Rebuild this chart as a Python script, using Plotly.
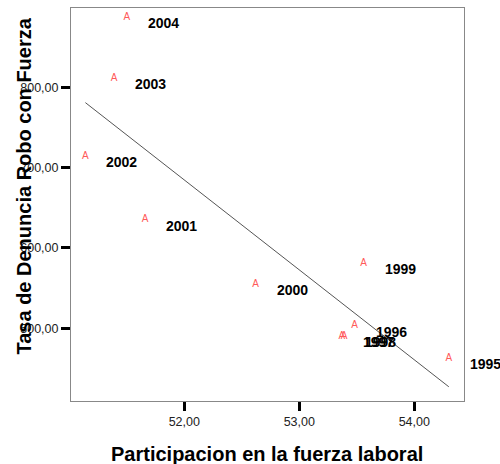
import numpy as np
import plotly.graph_objects as go

years = ["2004", "2003", "2002", "2001", "2000", "1999", "1996", "1997", "1998", "1995"]
participacion = [51.50, 51.39, 51.14, 51.66, 52.62, 53.56, 53.48, 53.37, 53.39, 54.30]
tasa_robo = [887, 811, 714, 635, 555, 581, 503, 490, 490, 463]

x_ticks = [52, 53, 54]
x_tick_labels = ["52,00", "53,00", "54,00"]
y_ticks = [500, 600, 700, 800]
y_tick_labels = ["500,00", "600,00", "700,00", "800,00"]

x = np.array(participacion)
y = np.array(tasa_robo)
slope, intercept = np.polyfit(x, y, 1)
line_x = np.array([x.min(), x.max()])
line_y = slope * line_x + intercept

fig = go.Figure()
fig.add_trace(go.Scatter(
    x=line_x, y=line_y, mode="lines",
    line=dict(color="#555555", width=1), hoverinfo="skip", showlegend=False))
fig.add_trace(go.Scatter(
    x=participacion, y=tasa_robo, mode="text", text=["A"] * len(years),
    textposition="middle center",
    textfont=dict(family="Liberation Sans, Arial", size=10, color="#ff5a5a"),
    showlegend=False, cliponaxis=False))

for xi, yi, lab in zip(participacion, tasa_robo, years):
    fig.add_annotation(x=xi, y=yi, text=f"<b>{lab}</b>", showarrow=False,
                       xanchor="left", yanchor="middle", xshift=19, yshift=-6,
                       font=dict(family="Liberation Sans, Arial", size=14, color="#000000"))

W, H = 500, 464
L, R, T, B = 71, 36, 8, 63
pw, ph = W - L - R, H - T - B

fig.add_annotation(xref="paper", yref="paper", x=(267 - L) / pw, y=(T + ph - 454) / ph,
                   text="<b>Participacion en la fuerza laboral</b>", showarrow=False,
                   xanchor="center", yanchor="middle",
                   font=dict(family="Liberation Sans, Arial", size=20, color="#000000"))
fig.add_annotation(xref="paper", yref="paper", x=(23 - L) / pw, y=(T + ph - 186.5) / ph,
                   text="<b>Tasa de Denuncia Robo con Fuerza</b>", showarrow=False,
                   textangle=-90, xanchor="center", yanchor="middle",
                   font=dict(family="Liberation Sans, Arial", size=20, color="#000000"))

axis_common = dict(showgrid=False, zeroline=False, showline=True, linecolor="#888888",
                   linewidth=1, mirror=True, ticks="outside", ticklen=9, tickwidth=3,
                   tickcolor="#000000",
                   tickfont=dict(family="Liberation Sans, Arial", size=12.5, color="#222222"))

fig.update_xaxes(range=[51.015, 54.432], tickvals=x_ticks, ticktext=x_tick_labels, **axis_common)
fig.update_yaxes(range=[409.5, 898.7], tickvals=y_ticks, ticktext=y_tick_labels, **axis_common)

fig.update_layout(width=W, height=H, margin=dict(l=L, r=R, t=T, b=B, autoexpand=False),
                  plot_bgcolor="white", paper_bgcolor="white", showlegend=False)

fig.write_html("out.html", config={"displayModeBar": False},
               post_script="document.body.style.margin='0';document.body.style.overflow='hidden';")
